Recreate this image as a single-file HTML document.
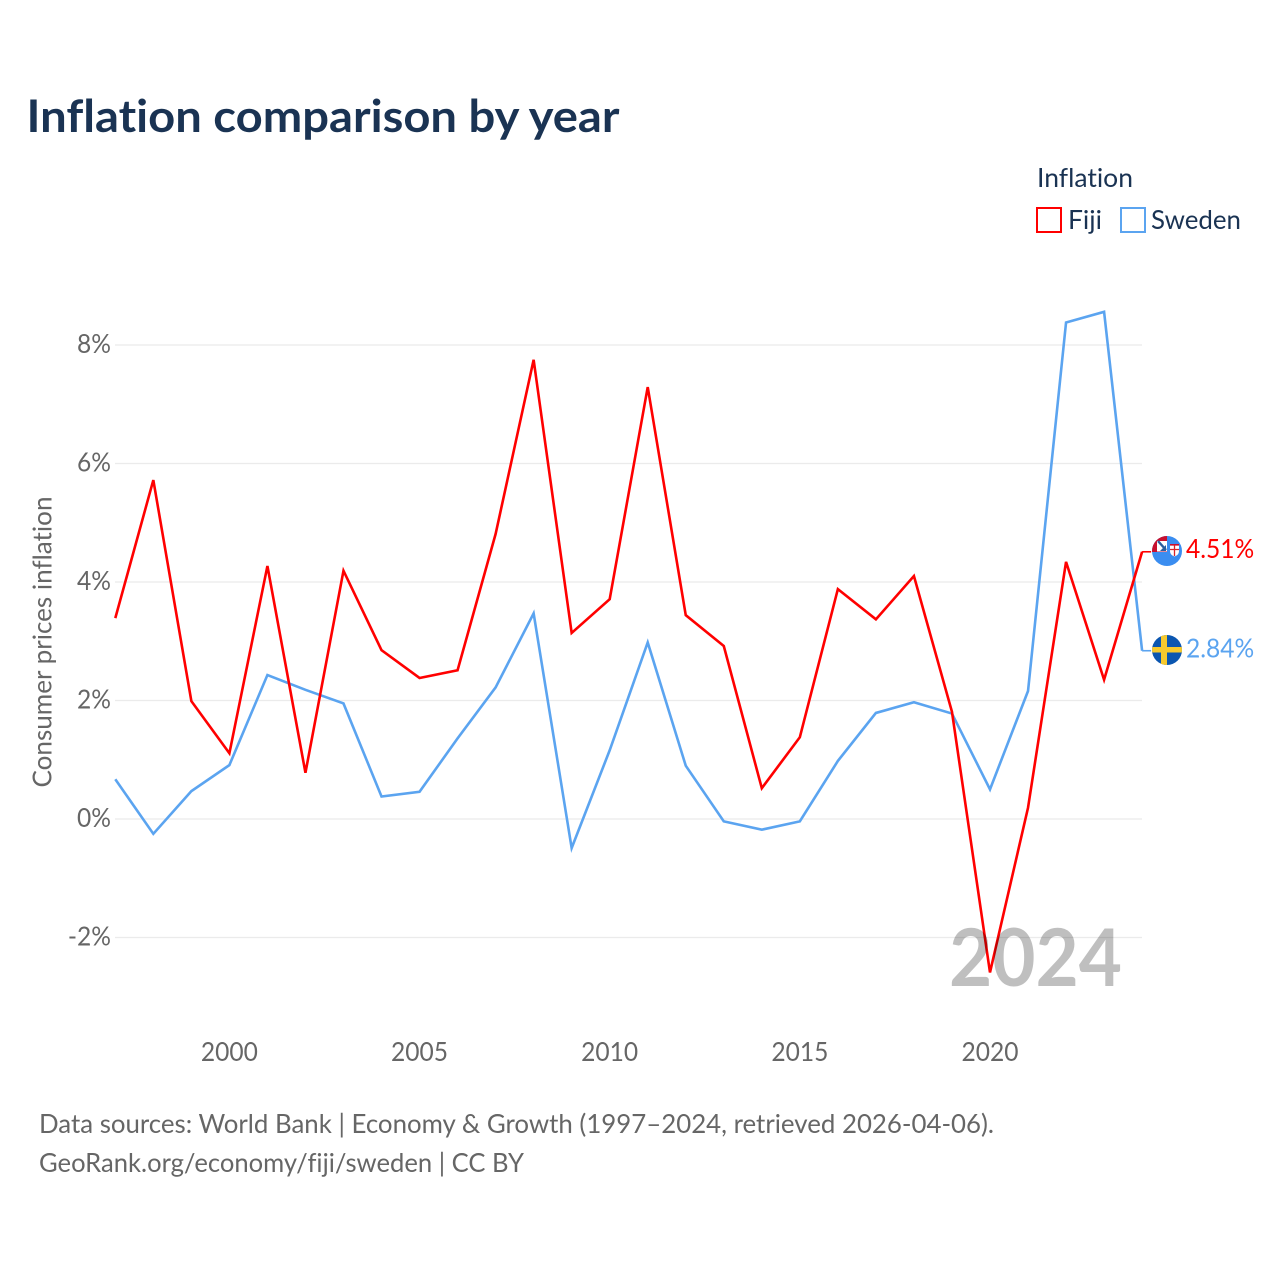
<!DOCTYPE html>
<html lang="en">
<head>
<meta charset="utf-8">
<title>Inflation comparison by year</title>
<style>
  html, body { margin: 0; padding: 0; background: #fff; }
  svg { display: block; font-family: "Lato", "Carlito", "Liberation Sans", sans-serif; font-variant-ligatures: none; font-feature-settings: "liga" 0, "clig" 0; }
</style>
</head>
<body>
<svg id="chart" xmlns="http://www.w3.org/2000/svg" width="1280" height="1280" viewBox="0 0 1280 1280">
  <defs>
    <clipPath id="flag-clip-fiji"><circle cx="1167" cy="551" r="15"></circle></clipPath>
    <clipPath id="flag-clip-sweden"><circle cx="1167" cy="650" r="15"></circle></clipPath>
  </defs>
  <rect x="0" y="0" width="1280" height="1280" fill="#ffffff"></rect>
  <text x="26.5" y="132" font-size="45" font-weight="700" fill="#1a3353" textLength="593" lengthAdjust="spacingAndGlyphs">Inflation comparison by year</text>

  <g>
    <text x="1037" y="187" font-size="26" fill="#1a3353" textLength="96" lengthAdjust="spacingAndGlyphs">Inflation</text>
    <rect x="1037" y="208" width="24" height="24" fill="none" stroke="#ff0000" stroke-width="2"></rect>
    <text x="1068" y="229" font-size="26" fill="#1a3353" textLength="34" lengthAdjust="spacingAndGlyphs">Fiji</text>
    <rect x="1121" y="208" width="24" height="24" fill="none" stroke="#5ba4f0" stroke-width="2"></rect>
    <text x="1151" y="229" font-size="26" fill="#1a3353" textLength="90" lengthAdjust="spacingAndGlyphs">Sweden</text>
  </g>

  <g id="grid"></g>
  <g id="y-axis"></g>
  <g id="x-axis"></g>
  <text transform="translate(51.5 642) rotate(-90)" text-anchor="middle" font-size="26" fill="#666666" textLength="291" lengthAdjust="spacingAndGlyphs">Consumer prices inflation</text>

  <g id="series"></g>

  <g id="flag-fiji">
    <g clip-path="url(#flag-clip-fiji)">
      <rect x="1152" y="536" width="30" height="30" fill="#3a8df0"></rect>
      <rect x="1152" y="536" width="15" height="16" fill="#c8102e"></rect>
      <rect x="1157" y="541" width="10" height="10.5" fill="#ffffff"></rect>
      <path d="M1158 541 L1166 550" stroke="#2b5f9e" stroke-width="2.4"></path>
      <path d="M1160 551 L1166 545 V551 Z" fill="#2b5f9e"></path>
      <path d="M1170 544 H1179 V551 Q1179 555 1174.5 556.5 Q1170 555 1170 551 Z" fill="#ffffff"></path>
      <path d="M1170 544.8 H1179" stroke="#c8102e" stroke-width="1.6"></path>
      <path d="M1174.5 545 V556 M1170 549.5 H1179" stroke="#d8232a" stroke-width="1.3"></path>
    </g>
  </g>
  <g id="flag-sweden">
    <g clip-path="url(#flag-clip-sweden)">
      <rect x="1152" y="635" width="30" height="30" fill="#0b56b0"></rect>
      <rect x="1161" y="635" width="6" height="30" fill="#f6c92d"></rect>
      <rect x="1152" y="647" width="30" height="5.5" fill="#f6c92d"></rect>
    </g>
  </g>

  <g id="end-labels"></g>

  <text x="1122" y="986" text-anchor="end" font-size="80" font-weight="700" fill="#000000" fill-opacity="0.25" textLength="173" lengthAdjust="spacingAndGlyphs">2024</text>

  <g>
    <text x="39" y="1133" font-size="26" fill="#666666" textLength="955" lengthAdjust="spacingAndGlyphs">Data sources: World Bank | Economy &amp; Growth (1997–2024, retrieved 2026-04-06).</text>
    <text x="39" y="1172" font-size="26" fill="#666666" textLength="485" lengthAdjust="spacingAndGlyphs">GeoRank.org/economy/fiji/sweden | CC BY</text>
  </g>
</svg>
<script>
const years = [1997,1998,1999,2000,2001,2002,2003,2004,2005,2006,2007,2008,2009,2010,2011,2012,2013,2014,2015,2016,2017,2018,2019,2020,2021,2022,2023,2024];
const fijiValues = [3.39,5.72,1.99,1.11,4.27,0.78,4.19,2.85,2.38,2.51,4.81,7.75,3.14,3.71,7.29,3.44,2.92,0.52,1.38,3.88,3.37,4.10,1.81,-2.59,0.19,4.34,2.35,4.51];
const swedenValues = [0.67,-0.25,0.47,0.91,2.43,2.18,1.95,0.38,0.46,1.36,2.22,3.47,-0.49,1.16,2.98,0.90,-0.04,-0.18,-0.04,0.98,1.79,1.97,1.78,0.50,2.16,8.38,8.56,2.84];
const yTicks = [-2,0,2,4,6,8];
const xTicks = [2000,2005,2010,2015,2020];

const NS = 'http://www.w3.org/2000/svg';
const LABEL_SQUEEZE = 0.945;
const xScale = function (year) { return 115.3 + (year - 1997) * 38.03; };
const yScale = function (value) { return 819 - value * 59.25; };

function make(tag, parent, attrs, text) {
  const el = document.createElementNS(NS, tag);
  Object.keys(attrs).forEach(function (k) { el.setAttribute(k, attrs[k]); });
  if (text !== undefined) el.textContent = text;
  parent.appendChild(el);
  return el;
}

function squeeze(el) {
  const w = el.getComputedTextLength();
  if (w > 0) {
    el.setAttribute('textLength', (w * LABEL_SQUEEZE).toFixed(2));
    el.setAttribute('lengthAdjust', 'spacingAndGlyphs');
  }
}

const grid = document.getElementById('grid');
const yAxis = document.getElementById('y-axis');
const xAxis = document.getElementById('x-axis');
const seriesGroup = document.getElementById('series');
const endLabels = document.getElementById('end-labels');

yTicks.forEach(function (tick) {
  const line = make('line', grid, { x1: 115, x2: 1142, y1: yScale(tick), y2: yScale(tick), stroke: '#ebebeb', 'stroke-width': 1.2 });
  
  
  const label = make('text', yAxis, { x: 111, y: yScale(tick) + 8, 'text-anchor': 'end', 'font-size': 26, fill: '#666666' }, tick + '%');
  
  
  squeeze(label);
});

xTicks.forEach(function (tick) {
  const label = make('text', xAxis, { x: xScale(tick), y: 1061, 'text-anchor': 'middle', 'font-size': 26, fill: '#666666' }, String(tick));
  
  
  squeeze(label);
});

function linePoints(values) {
  return values.map(function (v, i) { return xScale(years[i]) + ',' + yScale(v); }).join(' ');
}

function connector(values, color, name) {
  const y = yScale(values[values.length - 1]);
  const x = xScale(years[years.length - 1]);
  const c = make('line', seriesGroup, { x1: x, x2: x + 9, y1: y, y2: y, stroke: color, 'stroke-width': 1.6 });
  
  
}

const swedenLine = make('polyline', seriesGroup, { points: linePoints(swedenValues), fill: 'none', stroke: '#5ba4f0', 'stroke-width': 2.6, 'stroke-linejoin': 'miter' });


const fijiLine = make('polyline', seriesGroup, { points: linePoints(fijiValues), fill: 'none', stroke: '#ff0000', 'stroke-width': 2.6, 'stroke-linejoin': 'miter' });


connector(swedenValues, '#5ba4f0', 'sweden-connector');
connector(fijiValues, '#ff0000', 'fiji-connector');

const fijiLast = fijiValues[fijiValues.length - 1];
const swedenLast = swedenValues[swedenValues.length - 1];
const fijiEnd = make('text', endLabels, { x: 1186, y: yScale(fijiLast) + 6, 'font-size': 26, fill: '#ff0000' }, fijiLast.toFixed(2) + '%');


squeeze(fijiEnd);
const swedenEnd = make('text', endLabels, { x: 1186, y: yScale(swedenLast) + 7, 'font-size': 26, fill: '#5ba4f0' }, swedenLast.toFixed(2) + '%');


squeeze(swedenEnd);
</script>
</body>
</html>
